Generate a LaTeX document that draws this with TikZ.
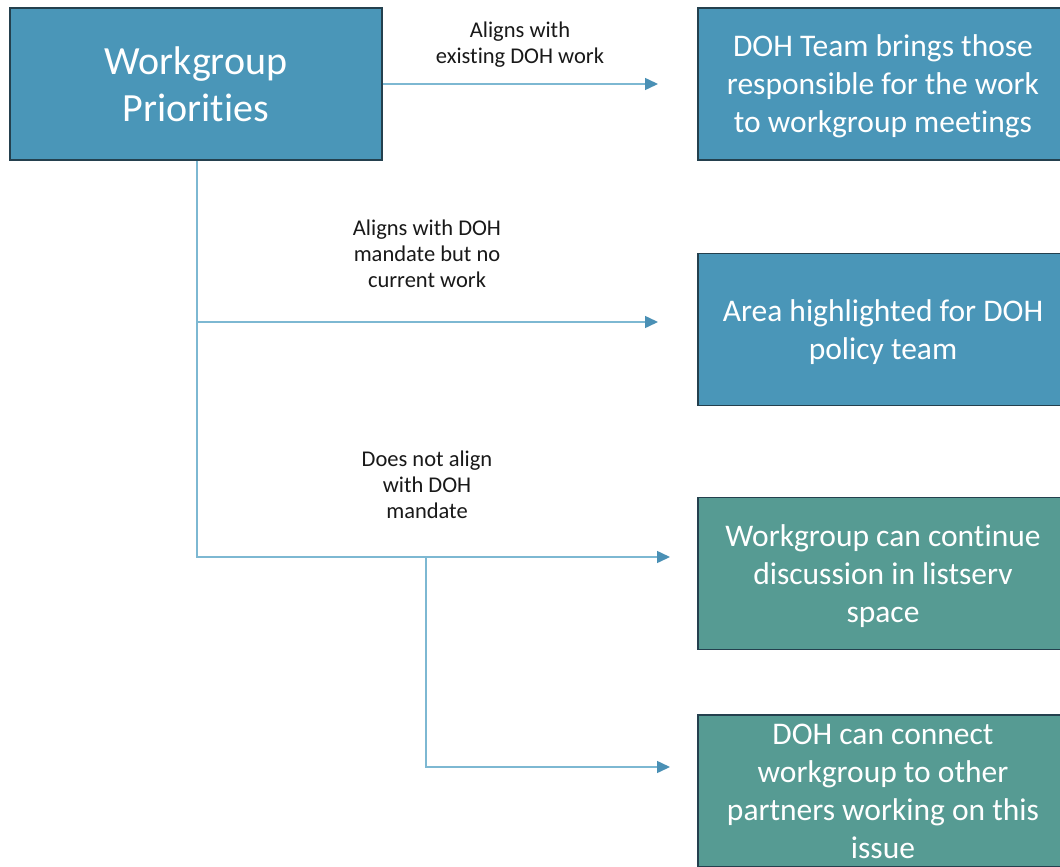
\documentclass[tikz,border=0pt]{standalone}
\usepackage{fontspec}
\setmainfont{Carlito}[RawFeature=-liga]
\usetikzlibrary{arrows.meta}
\definecolor{boxblue}{HTML}{4A96B8}
\definecolor{boxteal}{HTML}{569B93}
\definecolor{boxedge}{HTML}{24404E}
\definecolor{connline}{HTML}{7DB8D2}
\definecolor{conntip}{HTML}{4A90B5}
\tikzset{
  box/.style={draw=boxedge, line width=1.5pt, minimum width=370pt, minimum height=152pt,
    inner sep=0pt, align=center, text=white, text depth=0pt, font=\fontsize{31.5}{38}\selectfont},
  bluebox/.style={box, fill=boxblue},
  tealbox/.style={box, fill=boxteal},
  conn/.style={draw=connline, line width=1.5pt,
    -{Triangle[length=13pt,width=12pt,color=conntip]}},
  lbl/.style={align=center, text=black!90, text depth=0pt, font=\fontsize{22.5}{26}\selectfont, inner sep=0pt}
}
\begin{document}
\begin{tikzpicture}[x=1pt,y=-1pt]
\clip (0,0) rectangle (1060,867);
\fill[white] (0,0) rectangle (1060,867);
\node[bluebox, minimum width=372pt, font=\fontsize{40}{47}\selectfont] (wp) at (196,84) {Workgroup\\Priorities};
\node[bluebox] (b1) at (883,84) {DOH Team brings those\\responsible for the work\\to workgroup meetings};
\node[bluebox] (b2) at (883,329.5) {Area highlighted for DOH\\policy team};
\node[tealbox] (b3) at (883,573.5) {Workgroup can continue\\discussion in listserv\\space};
\node[tealbox] (b4) at (883,791) {DOH can connect\\workgroup to other\\partners working on this\\issue};
\coordinate (e1) at (658,84);
\coordinate (e2) at (658,322);
\coordinate (e3) at (670,557);
\coordinate (e4) at (670,767);
\coordinate (j1) at (197,322);
\coordinate (j2) at (426,557);
\draw[conn] (wp.east) -- (e1);
\draw[conn] (wp.south -| j1) |- (e2);
\draw[conn] (j1) |- (e3);
\draw[conn] (j2) |- (e4);
\node[lbl] (l1) at (520,43) {Aligns with\\existing DOH work};
\node[lbl] (l2) at (427,254) {Aligns with DOH\\mandate but no\\current work};
\node[lbl] (l3) at (427,485) {Does not align\\with DOH\\mandate};
\end{tikzpicture}
\end{document}
